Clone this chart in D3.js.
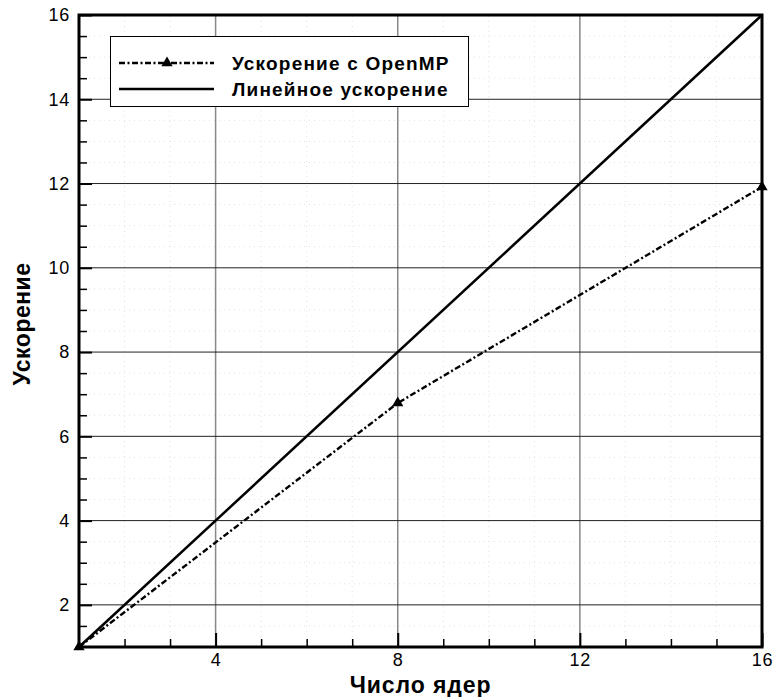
<!DOCTYPE html>
<html>
<head>
<meta charset="utf-8">
<script src="https://cdn.jsdelivr.net/npm/d3@7"></script>
<style>
  body { margin: 0; background: #fff; }
  svg { display: block; font-family: "Liberation Sans", Arial, sans-serif; }
</style>
</head>
<body>
<div id="chart"></div>
<script>
// Speedup vs number of cores
const cores = [1, 8, 16];
const speedupOmp = [1, 6.79, 11.92];
const linearX = [1, 16];
const linearY = [1, 16];
const xTicks = [4, 8, 12, 16];
const yTicks = [2, 4, 6, 8, 10, 12, 14, 16];
const seriesNames = ["Ускорение с OpenMP", "Линейное ускорение"];

const width = 774, height = 697;
const margin = {top: 15, right: 12, bottom: 50, left: 79};

const svg = d3.select("#chart")
  .append("svg")
  .attr("width", width)
  .attr("height", height);

const x = d3.scaleLinear().domain([1, 16]).range([margin.left, width - margin.right]);
const y = d3.scaleLinear().domain([1, 16]).range([height - margin.bottom, margin.top]);

const x0 = x.range()[0], x1 = x.range()[1];
const y0 = y.range()[0], y1 = y.range()[1];

// minor dotted grid
const xMinor = d3.range(2, 16, 1).filter(v => !xTicks.includes(v));
const yMinor = d3.range(1.5, 16, 0.5).filter(v => !yTicks.includes(v));

svg.append("g")
  .selectAll("line")
  .data(xMinor)
  .join("line")
    .attr("x1", d => x(d)).attr("x2", d => x(d))
    .attr("y1", y0).attr("y2", y1)
    .attr("stroke", "#e2e2e2")
    .attr("stroke-dasharray", "1,4");

svg.append("g")
  .selectAll("line")
  .data(yMinor)
  .join("line")
    .attr("x1", x0).attr("x2", x1)
    .attr("y1", d => y(d)).attr("y2", d => y(d))
    .attr("stroke", "#e2e2e2")
    .attr("stroke-dasharray", "1,4");

// major grid
svg.append("g")
  .selectAll("line")
  .data(xTicks.filter(d => d < 16))
  .join("line")
    .attr("x1", d => x(d)).attr("x2", d => x(d))
    .attr("y1", y0).attr("y2", y1)
    .attr("stroke", "#888")
    .attr("stroke-width", 1.5);

svg.append("g")
  .selectAll("line")
  .data(yTicks.filter(d => d < 16))
  .join("line")
    .attr("x1", x0).attr("x2", x1)
    .attr("y1", d => y(d)).attr("y2", d => y(d))
    .attr("stroke", "#222")
    .attr("stroke-width", 1);

// axes (ticks inward)
const xAxis = svg.append("g")
  .attr("transform", `translate(0,${y0})`)
  .call(d3.axisBottom(x).tickValues(xTicks).tickSize(-14).tickPadding(6).tickSizeOuter(0));
xAxis.selectAll("line").attr("stroke", "#000").attr("stroke-width", 2);
xAxis.select(".domain").remove();
xAxis.selectAll("text").attr("fill", "#000")
  .style("font-size", "18px")
  .style("letter-spacing", "0.8px")
  .style("font-family", "'Liberation Sans', Arial, sans-serif");

svg.append("g")
  .attr("transform", `translate(0,${y0})`)
  .call(d3.axisBottom(x).tickValues(xMinor).tickSize(-8).tickFormat(""))
  .call(g => g.select(".domain").remove())
  .selectAll("line").attr("stroke", "#000").attr("stroke-width", 1.5);

const yAxis = svg.append("g")
  .attr("transform", `translate(${x0},0)`)
  .call(d3.axisLeft(y).tickValues(yTicks).tickSize(-13).tickPadding(9).tickSizeOuter(0));
yAxis.selectAll("line").attr("stroke", "#000").attr("stroke-width", 2);
yAxis.select(".domain").remove();
yAxis.selectAll("text").attr("fill", "#000")
  .style("font-size", "18px")
  .style("letter-spacing", "0.8px")
  .style("font-family", "'Liberation Sans', Arial, sans-serif");

svg.append("g")
  .attr("transform", `translate(${x0},0)`)
  .call(d3.axisLeft(y).tickValues(yMinor).tickSize(-8).tickFormat(""))
  .call(g => g.select(".domain").remove())
  .selectAll("line").attr("stroke", "#000").attr("stroke-width", 1.5);

// data lines
const lineLin = d3.line().x(d => x(d[0])).y(d => y(d[1]));

svg.append("path")
  .datum(d3.zip(linearX, linearY))
  .attr("fill", "none")
  .attr("stroke", "#000")
  .attr("stroke-width", 2.5)
  .attr("d", lineLin);

svg.append("path")
  .datum(d3.zip(cores, speedupOmp))
  .attr("fill", "none")
  .attr("stroke", "#000")
  .attr("stroke-width", 2.4)
  .attr("stroke-dasharray", "6,2.5,2,2.5")
  .attr("d", lineLin);

const tri = d3.symbol().type(d3.symbolTriangle).size(55);
svg.append("g")
  .selectAll("path")
  .data(d3.zip(cores, speedupOmp))
  .join("path")
    .attr("transform", d => `translate(${x(d[0])},${y(d[1])})`)
    .attr("d", tri)
    .attr("fill", "#000");

// frame
svg.append("rect")
  .attr("x", x0).attr("y", y1)
  .attr("width", x1 - x0).attr("height", y0 - y1)
  .attr("fill", "none")
  .attr("stroke", "#000")
  .attr("stroke-width", 3);

// legend
const legend = svg.append("g");
legend.append("rect")
  .attr("x", 110.5).attr("y", 36.5)
  .attr("width", 358).attr("height", 70)
  .attr("fill", "#fff")
  .attr("stroke", "#000")
  .attr("stroke-width", 1);

const legY = [63, 89];
legend.append("line")
  .attr("x1", 119).attr("x2", 214).attr("y1", legY[0]).attr("y2", legY[0])
  .attr("stroke", "#000").attr("stroke-width", 2.4).attr("stroke-dasharray", "6,2.5,2,2.5");
legend.append("path")
  .attr("transform", `translate(167,${legY[0]})`)
  .attr("d", tri).attr("fill", "#000");
legend.append("line")
  .attr("x1", 119).attr("x2", 214).attr("y1", legY[1]).attr("y2", legY[1])
  .attr("stroke", "#000").attr("stroke-width", 2.5);

legend.selectAll("text")
  .data(seriesNames)
  .join("text")
    .attr("x", 232)
    .attr("y", (d, i) => legY[i] + 6.5)
    .text(d => d)
    .style("font-size", "19px")
    .style("letter-spacing", "1.2px")
    .attr("font-weight", "bold");

// axis titles
svg.append("text")
  .attr("x", (x0 + x1) / 2)
  .attr("y", 693)
  .attr("text-anchor", "middle")
  .style("font-size", "23px")
  .style("letter-spacing", "0.9px")
  .attr("font-weight", "bold")
  .text("Число ядер");

svg.append("text")
  .attr("transform", `translate(30,324) rotate(-90)`)
  .attr("text-anchor", "middle")
  .style("font-size", "23px")
  .style("letter-spacing", "0.5px")
  .attr("font-weight", "bold")
  .text("Ускорение");
</script>
</body>
</html>
